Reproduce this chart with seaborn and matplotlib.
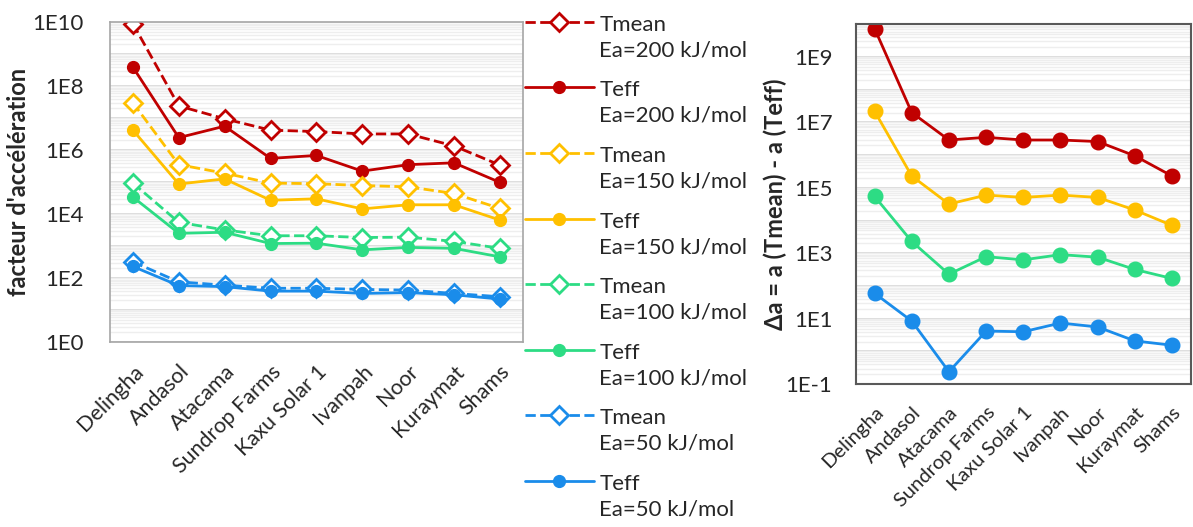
import numpy as np
import seaborn as sns
from matplotlib import pyplot as plt
from matplotlib.ticker import FixedLocator, LogLocator, NullFormatter
from matplotlib.legend_handler import HandlerLine2D

sites = ['Delingha', 'Andasol', 'Atacama', 'Sundrop Farms', 'Kaxu Solar 1',
         'Ivanpah', 'Noor', 'Kuraymat', 'Shams']
energies = [200, 150, 100, 50]  # kJ/mol
colors = ['#C00000', '#FFC000', '#2DDC84', '#1A8CEA']

# facteur d'acceleration, T moyenne
tmean_200 = [8.9e9, 2.4e7, 9.5e6, 4.2e6, 3.8e6, 3.2e6, 3.2e6, 1.35e6, 3.4e5]
tmean_150 = [3.0e7, 3.5e5, 1.9e5, 9.3e4, 8.9e4, 7.8e4, 7.1e4, 4.4e4, 1.5e4]
tmean_100 = [9.3e4, 5.5e3, 3.2e3, 2.1e3, 2.1e3, 1.85e3, 1.9e3, 1.4e3, 850]
tmean_50 = [320, 76, 60, 48, 48, 44, 42, 33, 26]
# facteur d'acceleration, T effective
teff_200 = [3.9e8, 2.45e6, 5.6e6, 5.5e5, 6.8e5, 2.2e5, 3.5e5, 4.0e5, 9.8e4]
teff_150 = [4.2e6, 8.7e4, 1.26e5, 2.7e4, 3.0e4, 1.45e4, 1.95e4, 1.95e4, 6.5e3]
teff_100 = [3.4e4, 2.5e3, 2.7e3, 1.2e3, 1.23e3, 760, 910, 850, 460]
teff_50 = [230, 58, 54, 39, 39, 33, 35, 30, 22]
# delta a = a(Tmean) - a(Teff)
delta_200 = [7.4e9, 2.0e7, 2.9e6, 3.5e6, 2.9e6, 2.9e6, 2.6e6, 9.5e5, 2.3e5]
delta_150 = [2.2e7, 2.3e5, 3.2e4, 6.0e4, 5.1e4, 6.0e4, 5.1e4, 2.1e4, 7.1e3]
delta_100 = [5.5e4, 2.3e3, 230, 790, 630, 910, 760, 320, 170]
delta_50 = [60, 8.5, 0.24, 4.2, 4.0, 7.4, 5.6, 2.1, 1.55]

tmean = [tmean_200, tmean_150, tmean_100, tmean_50]
teff = [teff_200, teff_150, teff_100, teff_50]
delta = [delta_200, delta_150, delta_100, delta_50]


class FirstLineHandler(HandlerLine2D):
    # put the legend symbol on the first line of a two-line label
    def create_artists(self, legend, orig_handle, xdescent, ydescent, width,
                       height, fontsize, trans):
        arts = super().create_artists(legend, orig_handle, xdescent, ydescent,
                                      width, height, fontsize, trans)
        for a in arts:
            a.set_ydata(np.asarray(a.get_ydata()) + 0.72 * fontsize)
        return arts


sns.set_style('white')
plt.rcParams['font.family'] = ['Lato', 'DejaVu Sans']
plt.rcParams['text.color'] = '#262626'

fig = plt.figure(figsize=(11.93, 5.27), dpi=100)
ax1 = fig.add_axes([0.0922, 0.351, 0.346, 0.607])
ax2 = fig.add_axes([0.7175, 0.271, 0.2805, 0.683])

x = np.arange(len(sites))

for c, e, tm, te in zip(colors, energies, tmean, teff):
    sns.lineplot(x=x, y=tm, ax=ax1, color=c, linestyle='--', linewidth=2,
                 marker='D', markersize=9, markerfacecolor='white',
                 markeredgecolor=c, markeredgewidth=2, sort=False,
                 legend=False, label='Tmean\nEa=%d kJ/mol' % e)
    sns.lineplot(x=x, y=te, ax=ax1, color=c, linestyle='-', linewidth=2,
                 marker='o', markersize=8.5, markerfacecolor=c,
                 markeredgecolor=c, markeredgewidth=1, sort=False,
                 legend=False, label='Teff\nEa=%d kJ/mol' % e)

for c, d in zip(colors, delta):
    sns.lineplot(x=x, y=d, ax=ax2, color=c, linewidth=2, marker='o',
                 markersize=10.5, markerfacecolor=c, markeredgecolor=c,
                 markeredgewidth=1, sort=False, legend=False)

for ax, lo, hi, rot_size, pad in [(ax1, 0, 10, 15.5, 19), (ax2, -1, 10, 14.5, 17)]:
    ax.set_yscale('log')
    ax.set_ylim(10.0 ** lo, 10.0 ** hi)
    ax.set_xlim(-0.5, len(sites) - 0.5)
    exps = list(range(lo, hi, 2)) if ax is ax2 else list(range(lo, hi + 1, 2))
    ax.yaxis.set_major_locator(FixedLocator([10.0 ** k for k in exps]))
    ax.set_yticklabels(['1E%d' % k for k in exps], fontsize=16)
    ax.yaxis.set_minor_locator(LogLocator(base=10, subs=np.arange(1, 10), numticks=30))
    ax.yaxis.set_minor_formatter(NullFormatter())
    ax.grid(True, which='minor', axis='y', color='#eeeeee', linewidth=1)
    ax.grid(True, which='major', axis='y', color='#eeeeee', linewidth=1)
    for k in range(lo, hi + 1):
        ax.axhline(10.0 ** k, color='#d4d4d4', linewidth=1.2, zorder=0.5)
    ax.set_axisbelow(True)
    ax.set_xticks(x)
    ax.set_xticklabels(sites, rotation=45, ha='right', rotation_mode='anchor',
                       fontsize=rot_size)
    ax.tick_params(axis='both', which='both', length=0)
    ax.tick_params(axis='y', pad=pad)
    ax.tick_params(axis='x', pad=14)

for s in ax1.spines.values():
    s.set_color('#a6a6a6')
    s.set_linewidth(1.2)
for s in ax2.spines.values():
    s.set_color('#595959')
    s.set_linewidth(1.5)

ax1.set_ylabel("facteur d'accélération", fontsize=17, fontweight='bold')
ax2.set_ylabel('Δa = a (Tmean) - a (Teff)', fontsize=17, fontweight='bold')
ax1.yaxis.set_label_coords(-0.194, 0.5)
ax2.yaxis.set_label_coords(-0.206, 0.5)

handles, labels = ax1.get_legend_handles_labels()
leg = fig.legend(handles, labels, loc='upper left',
                 bbox_to_anchor=(0.44, 0.972), frameon=False, fontsize=16,
                 handlelength=3.1, handletextpad=0.25, labelspacing=0.9,
                 borderpad=0, borderaxespad=0,
                 handler_map={h: FirstLineHandler() for h in handles})
for t in leg.get_texts():
    t.set_linespacing(1.35)

plt.savefig('out.png', dpi=100)
